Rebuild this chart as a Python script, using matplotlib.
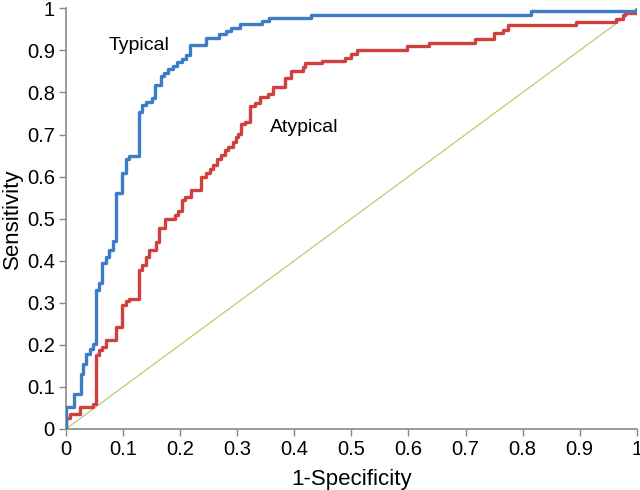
"""ROC curves for typical vs atypical presentation."""

import matplotlib
matplotlib.use('Agg')
import matplotlib.pyplot as plt

plt.rcParams['font.family'] = ['Liberation Sans', 'DejaVu Sans']

# step corners: (1-specificity, sensitivity after the rise)
typical_x = [0.0, 0.0, 0.014, 0.026, 0.030, 0.036, 0.043, 0.048, 0.053, 0.058, 0.063,
             0.070, 0.075, 0.082, 0.088, 0.099, 0.105, 0.111, 0.128, 0.133, 0.140,
             0.151, 0.156, 0.166, 0.172, 0.179, 0.188, 0.195, 0.203, 0.210, 0.218,
             0.246, 0.268, 0.281, 0.289, 0.305, 0.344, 0.356, 0.430, 0.814, 1.0]
typical_y = [0.0, 0.052, 0.083, 0.131, 0.154, 0.178, 0.190, 0.202, 0.330, 0.347, 0.394,
             0.408, 0.425, 0.448, 0.561, 0.608, 0.641, 0.648, 0.753, 0.770, 0.777,
             0.786, 0.817, 0.838, 0.846, 0.855, 0.864, 0.872, 0.880, 0.888, 0.914,
             0.930, 0.938, 0.946, 0.954, 0.962, 0.970, 0.978, 0.985, 0.993, 1.0]

atypical_x = [0.0, 0.0, 0.007, 0.025, 0.048, 0.053, 0.058, 0.064, 0.070, 0.088, 0.099,
              0.105, 0.111, 0.128, 0.134, 0.140, 0.146, 0.157, 0.163, 0.173, 0.191,
              0.197, 0.203, 0.208, 0.219, 0.236, 0.245, 0.252, 0.258, 0.264, 0.271,
              0.278, 0.284, 0.293, 0.298, 0.302, 0.307, 0.313, 0.322, 0.331, 0.340,
              0.354, 0.363, 0.384, 0.395, 0.415, 0.419, 0.448, 0.489, 0.500, 0.510,
              0.597, 0.636, 0.716, 0.750, 0.766, 0.775, 0.893, 0.964, 0.975, 0.980, 1.0]
atypical_y = [0.0, 0.026, 0.036, 0.053, 0.059, 0.176, 0.188, 0.194, 0.211, 0.243, 0.294,
              0.304, 0.310, 0.378, 0.390, 0.409, 0.425, 0.445, 0.477, 0.500, 0.508,
              0.519, 0.544, 0.552, 0.569, 0.600, 0.609, 0.619, 0.627, 0.641, 0.651,
              0.663, 0.671, 0.682, 0.694, 0.702, 0.724, 0.730, 0.767, 0.775, 0.789,
              0.797, 0.813, 0.835, 0.851, 0.861, 0.869, 0.875, 0.883, 0.891, 0.900,
              0.910, 0.918, 0.926, 0.941, 0.949, 0.960, 0.967, 0.975, 0.985, 0.990, 1.0]

ticks = [0, 0.1, 0.2, 0.3, 0.4, 0.5, 0.6, 0.7, 0.8, 0.9, 1]
tick_labels = ['0', '0.1', '0.2', '0.3', '0.4', '0.5', '0.6', '0.7', '0.8', '0.9', '1']

fig = plt.figure(figsize=(6.4, 4.9), dpi=100)
ax = fig.add_axes([0.103, 0.1245, 0.892, 0.8585])

ax.plot([0, 1], [0, 1], color='#b9cd72', linewidth=0.9, zorder=1)
ax.plot(atypical_x, atypical_y, drawstyle='steps-post', color='#d0413e', linewidth=2.4, zorder=2)
ax.plot(typical_x, typical_y, drawstyle='steps-post', color='#3d7cc9', linewidth=2.4, zorder=3)

ax.text(0.074, 0.912, 'Typical', fontsize=14, ha='left', va='center')
ax.text(0.357, 0.717, 'Atypical', fontsize=14, ha='left', va='center')

ax.set_xlim(0, 1)
ax.set_ylim(0, 1)
ax.set_xticks(ticks)
ax.set_xticklabels(tick_labels)
ax.set_yticks(ticks)
ax.set_yticklabels(tick_labels)
ax.tick_params(labelsize=14.5, direction='out', length=5, color='#888888', width=1, pad=3)

for side in ['top', 'right']:
    ax.spines[side].set_visible(False)
for side in ['left', 'bottom']:
    ax.spines[side].set_color('#888888')
    ax.spines[side].set_linewidth(1.2)

ax.set_xlabel('1-Specificity', fontsize=16, labelpad=7)
ax.set_ylabel('Sensitivity', fontsize=16, labelpad=3)

fig.savefig('out.png', dpi=100)
plt.close(fig)
